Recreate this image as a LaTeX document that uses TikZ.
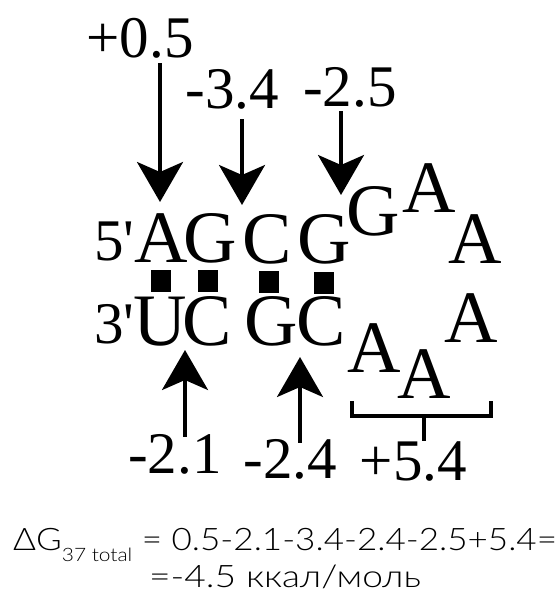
\documentclass[tikz,border=0pt]{standalone}
\usepackage{fontspec}
\setmainfont{Liberation Serif}
\newfontfamily\eqfont{Lato Light}[FakeStretch=1.13]
\usetikzlibrary{arrows.meta}

\begin{document}
\begin{tikzpicture}[x=1pt, y=-1pt,
  nuc/.style={font=\fontsize{74}{74}\selectfont, inner sep=0pt, anchor=base},
  en/.style={font=\fontsize{59}{59}\selectfont, inner sep=0pt, anchor=base},
  arr/.style={line width=3.5pt, -{Stealth[length=40pt, width=46pt, inset=10pt]}},
  brk/.style={line width=4pt},
  eqn/.style={font=\eqfont\fontsize{31}{31}\selectfont, inner sep=0pt}
]
  \useasboundingbox (0,0) rectangle (557,592);

  % 5' strand
  \node[en]  (t0) at (114.5,260) {5\textquotesingle};
  \node[nuc] (t1) at (161.5,262) {A};
  \node[nuc] (t2) at (210,262) {G};
  \node[nuc] (t3) at (267.5,263) {C};
  \node[nuc] (t4) at (324.5,263) {G};

  % loop
  \node[nuc] (l1) at (373.5,235) {G};
  \node[nuc] (l2) at (429,212) {A};
  \node[nuc] (l3) at (475,263) {A};
  \node[nuc] (l4) at (471,342) {A};
  \node[nuc] (l5) at (424,398) {A};
  \node[nuc] (l6) at (374,372) {A};

  % 3' strand
  \node[en]  (b0) at (114.5,343) {3\textquotesingle};
  \node[nuc] (b1) at (160,345) {U};
  \node[nuc] (b2) at (207,345) {C};
  \node[nuc] (b3) at (271,345) {G};
  \node[nuc] (b4) at (321,345) {C};

  % pairs
  \foreach \x/\y in {161/281, 208/281, 269/282, 324/283}
    \fill (\x-10,\y-11) rectangle (\x+10,\y+11);

  % energies
  \node[en] (e1) at (140,57) {+0.5};
  \node[en] (e2) at (232.5,108) {-3.4};
  \node[en] (e3) at (350,106) {-2.5};
  \node[en] (e4) at (175,473) {-2.1};
  \node[en] (e5) at (290.5,478) {-2.4};
  \node[en] (e6) at (413.5,480) {+5.4};

  \coordinate (h1) at (160,202);
  \coordinate (h2) at (242,205);
  \coordinate (h3) at (341,195);
  \coordinate (h4) at (185,350);
  \coordinate (h5) at (300,357);

  \draw[arr] ([yshift=-5pt]h1 |- e1.south) -- (h1);
  \draw[arr] ([yshift=-10pt]h2 |- e2.south) -- (h2);
  \draw[arr] ([yshift=-4pt]h3 |- e3.south) -- (h3);
  \draw[arr] ([yshift=-3pt]h4 |- e4.north) -- (h4);
  \draw[arr] ([yshift=-4pt]h5 |- e5.north) -- (h5);

  % bracket over the loop
  \coordinate (kl) at (352,401);
  \coordinate (kr) at (491,401);
  \draw[brk] (kl) -- ++(0,15) -| (kr);
  \draw[brk] ([xshift=10.5pt]e6.north) -- ++(0,-25);

  % total
  \node[eqn, anchor=base west] (q1) at (13,550)
    {ΔG\raisebox{-11pt}{\fontsize{18.5}{18.5}\selectfont 37 total} = 0.5-2.1-3.4-2.4-2.5+5.4=};
  \node[eqn, anchor=base] (q2) at (285,587) {\scalebox{1.06}[1]{=-4.5 ккал/моль}};
\end{tikzpicture}
\end{document}
